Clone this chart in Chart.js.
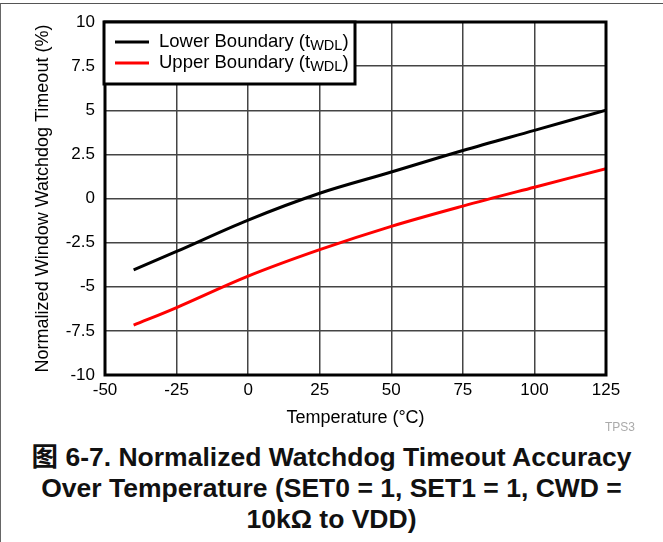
<!DOCTYPE html>
<html>
<head>
<meta charset="utf-8">
<script src="https://cdn.jsdelivr.net/npm/chart.js@4.4.1/dist/chart.umd.min.js"></script>
<style>
  html, body { margin: 0; padding: 0; background: #fff; }
  body { width: 663px; height: 542px; position: relative; overflow: hidden; }
  #frame { position: absolute; left: 0; top: 3px; width: 663px; height: 545px;
           border-top: 1.5px solid #555; border-left: 1.5px solid #666; box-sizing: border-box; }
  #wrap { position: absolute; left: 0; top: 0; width: 663px; height: 430px; }
  #tag { position: absolute; left: 605px; top: 420px; font: 12px "Liberation Sans", Arial, sans-serif; color: #aaa; }
  #caption { position: absolute; left: 0; top: 442px; width: 663px; text-align: center;
             font: bold 26.5px "Liberation Sans", Arial, "Noto Sans CJK SC", sans-serif;
             line-height: 31px; color: #111; }
</style>
</head>
<body>
<div id="frame"></div>
<div id="wrap"><canvas id="chart" width="663" height="430"></canvas></div>
<div id="tag">TPS3</div>
<div id="caption">图 6-7. Normalized Watchdog Timeout Accuracy<br>Over Temperature (SET0 = 1, SET1 = 1, CWD =<br>10kΩ to VDD)</div>
<script>
// valeurs
const temps = [-40, -25, 0, 25, 50, 75, 100, 125];
const lowerBoundary = [-4.05, -3.0, -1.22, 0.3, 1.5, 2.72, 3.86, 5.0];
const upperBoundary = [-7.18, -6.18, -4.4, -2.9, -1.58, -0.43, 0.64, 1.69];
const xTicks = [-50, -25, 0, 25, 50, 75, 100, 125];
const yTicks = [-10, -7.5, -5, -2.5, 0, 2.5, 5, 7.5, 10];

const font = '"Liberation Sans", Arial, sans-serif';

// legende avec indice (t_WDL)
const legendBox = {
    id: 'legendBox',
    afterDraw(chart) {
        const ctx = chart.ctx;
        const x0 = chart.chartArea.left - 1, y0 = chart.chartArea.top;
        const w = 251, h = 62;
        ctx.save();
        ctx.fillStyle = '#fff';
        ctx.fillRect(x0, y0, w, h);
        ctx.lineWidth = 3;
        ctx.strokeStyle = '#000';
        ctx.strokeRect(x0, y0, w, h);
        chart.data.datasets.forEach((ds, i) => {
            const y = y0 + 20 + i * 21;
            ctx.beginPath();
            ctx.moveTo(x0 + 11, y);
            ctx.lineTo(x0 + 45, y);
            ctx.lineWidth = 3;
            ctx.strokeStyle = ds.borderColor;
            ctx.stroke();
            ctx.fillStyle = '#000';
            ctx.textBaseline = 'middle';
            ctx.font = '18.5px ' + font;
            let tx = x0 + 55;
            ctx.fillText(ds.label, tx, y);
            tx += ctx.measureText(ds.label).width;
            ctx.font = '14.5px ' + font;
            ctx.fillText(ds.sub, tx, y + 4);
            tx += ctx.measureText(ds.sub).width;
            ctx.font = '18.5px ' + font;
            ctx.fillText(')', tx, y);
        });
        ctx.restore();
    }
};

// cadre epais autour du trace
const plotBorder = {
    id: 'plotBorder',
    afterDatasetsDraw(chart) {
        const a = chart.chartArea, ctx = chart.ctx;
        ctx.save();
        ctx.lineWidth = 3;
        ctx.strokeStyle = '#000';
        ctx.strokeRect(a.left, a.top, a.right - a.left, a.bottom - a.top);
        ctx.restore();
    }
};

const ctx = document.getElementById('chart').getContext('2d');
new Chart(ctx, {
    type: 'line',
    data: {
        datasets: [{
            label: 'Lower Boundary (t',
            sub: 'WDL',
            data: temps.map((t, i) => ({ x: t, y: lowerBoundary[i] })),
            borderColor: '#000',
            borderWidth: 3,
            pointRadius: 0,
            tension: 0.35
        }, {
            label: 'Upper Boundary (t',
            sub: 'WDL',
            data: temps.map((t, i) => ({ x: t, y: upperBoundary[i] })),
            borderColor: '#ff0000',
            borderWidth: 3,
            pointRadius: 0,
            tension: 0.35
        }]
    },
    options: {
        responsive: false,
        animation: false,
        layout: { padding: { top: 22, right: 57, bottom: 0, left: 0 } },
        plugins: { legend: { display: false }, tooltip: { enabled: false } },
        scales: {
            x: {
                type: 'linear',
                min: -50,
                max: 125,
                afterBuildTicks: s => { s.ticks = xTicks.map(v => ({ value: v })); },
                afterFit: s => { s.height = 55; },
                ticks: { color: '#000', font: { family: font, size: 17 }, padding: 5, maxRotation: 0, callback: v => String(v) },
                grid: { color: '#444', lineWidth: 1.5, drawTicks: false },
                border: { display: false },
                title: { display: true, text: 'Temperature (°C)', color: '#000', font: { family: font, size: 18 }, padding: { top: 0, bottom: 1 } }
            },
            y: {
                min: -10,
                max: 10,
                afterBuildTicks: s => { s.ticks = yTicks.map(v => ({ value: v })); },
                afterFit: s => { s.width = 105; },
                ticks: { color: '#000', font: { family: font, size: 17 }, padding: 10, callback: v => String(v) },
                grid: { color: '#444', lineWidth: 1.5, drawTicks: false },
                border: { display: false },
                title: { display: true, text: 'Normalized Window Watchdog Timeout (%)', color: '#000', font: { family: font, size: 18 }, padding: { top: 32, bottom: 0 } }
            }
        }
    },
    plugins: [plotBorder, legendBox]
});
</script>
</body>
</html>
